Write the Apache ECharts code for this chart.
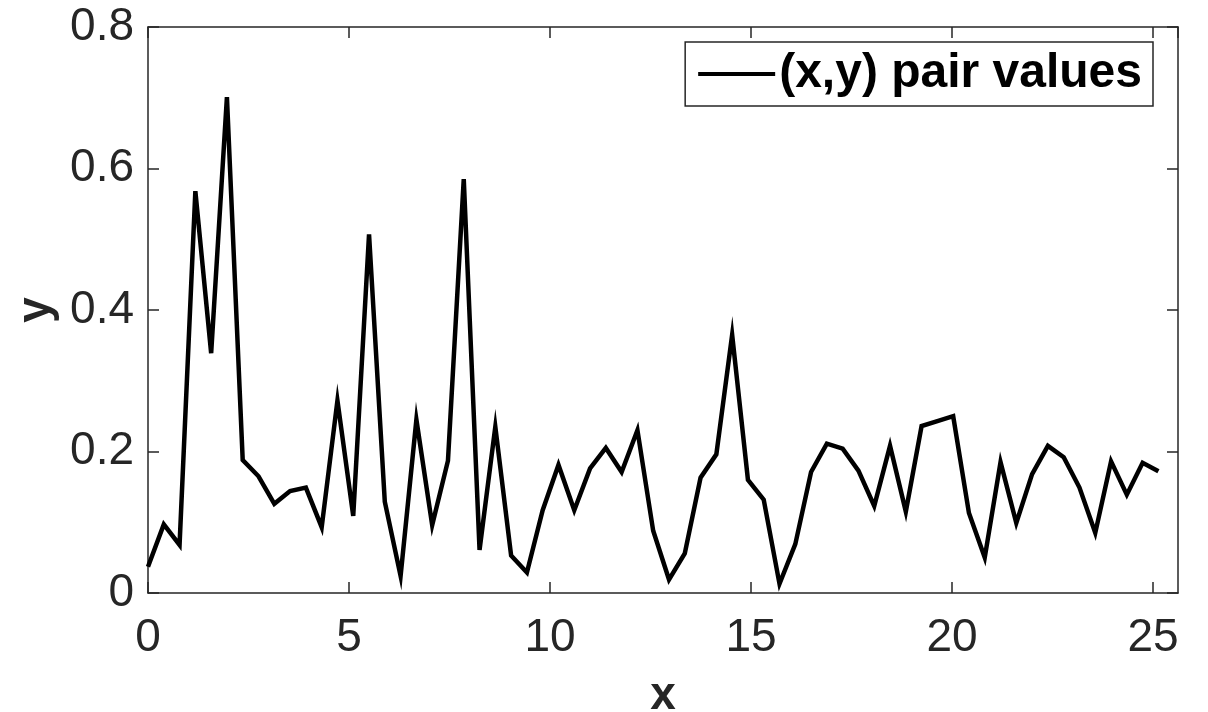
<!DOCTYPE html>
<html>
<head>
<meta charset="utf-8">
<script src="https://cdn.jsdelivr.net/npm/echarts@6/dist/echarts.min.js"></script>
<style>
  html, body { margin: 0; padding: 0; background: #fff; }
  #chart { width: 1208px; height: 712px; }
</style>
</head>
<body>
<div id="chart"></div>
<script>
// x samples (0 .. 8*pi, step pi/8)
const xValues = [
  0, 0.393, 0.785, 1.178, 1.571, 1.963, 2.356, 2.749, 3.142, 3.534,
  3.927, 4.320, 4.712, 5.105, 5.498, 5.890, 6.283, 6.676, 7.069, 7.461,
  7.854, 8.247, 8.639, 9.032, 9.425, 9.817, 10.210, 10.603, 10.996, 11.388,
  11.781, 12.174, 12.566, 12.959, 13.352, 13.744, 14.137, 14.530, 14.923, 15.315,
  15.708, 16.101, 16.493, 16.886, 17.279, 17.671, 18.064, 18.457, 18.850, 19.242,
  19.635, 20.028, 20.420, 20.813, 21.206, 21.598, 21.991, 22.384, 22.777, 23.169,
  23.562, 23.955, 24.347, 24.740, 25.133
];

const yValues = [
  0.037, 0.097, 0.068, 0.568, 0.339, 0.701, 0.188, 0.165, 0.126, 0.144,
  0.149, 0.093, 0.272, 0.109, 0.507, 0.129, 0.024, 0.245, 0.096, 0.187,
  0.585, 0.061, 0.235, 0.053, 0.029, 0.117, 0.181, 0.117, 0.176, 0.205,
  0.171, 0.230, 0.088, 0.019, 0.056, 0.163, 0.196, 0.365, 0.160, 0.132,
  0.013, 0.069, 0.171, 0.211, 0.204, 0.173, 0.123, 0.208, 0.115, 0.236,
  0.243, 0.250, 0.113, 0.050, 0.185, 0.099, 0.168, 0.208, 0.192, 0.149,
  0.085, 0.186, 0.139, 0.184, 0.172
];

const seriesName = '(x,y) pair values';
const xRange = [0, 25.62];
const yRange = [0, 0.8];

const axisColor = '#262626';
const font = '"Liberation Sans", Arial, Helvetica, sans-serif';

const chart = echarts.init(document.getElementById('chart'));

const baseAxisLine = { show: true, onZero: false, lineStyle: { color: axisColor, width: 1.5 } };
const baseTick = { show: true, inside: true, length: 11, lineStyle: { color: axisColor, width: 1.5 } };

let option = {
  animation: false,
  backgroundColor: '#fff',
  grid: { left: 148, right: 30, top: 27, bottom: 119, containLabel: false, outerBoundsMode: 'none' },
  legend: {
    data: [seriesName],
    top: 42,
    right: 55,
    icon: 'rect',
    itemWidth: 77,
    itemHeight: 4,
    itemGap: 0,
    padding: [8, 11, 8, 13],
    borderColor: axisColor,
    borderWidth: 1.5,
    backgroundColor: '#fff',
    textStyle: { fontFamily: font, fontSize: 48, fontWeight: 'bold', color: '#000', padding: [0, 0, 0, -1] }
  },
  xAxis: [{
    type: 'value',
    position: 'bottom',
    min: xRange[0],
    max: xRange[1],
    interval: 5,
    name: 'x',
    nameLocation: 'middle',
    nameGap: 80,
    nameTextStyle: { fontFamily: font, fontSize: 46, fontWeight: 'bold', color: axisColor },
    axisLine: baseAxisLine,
    axisTick: baseTick,
    splitLine: { show: false },
    axisLabel: {
      fontFamily: font, fontSize: 46, color: axisColor, margin: 22,
      showMaxLabel: false,
      formatter: v => (v % 5 === 0 ? String(v) : '')
    }
  }, {
    type: 'value',
    position: 'top',
    min: xRange[0],
    max: xRange[1],
    interval: 5,
    axisLine: baseAxisLine,
    axisTick: baseTick,
    splitLine: { show: false },
    axisLabel: { show: false }
  }],
  yAxis: [{
    type: 'value',
    position: 'left',
    min: yRange[0],
    max: yRange[1],
    interval: 0.2,
    name: 'y',
    nameLocation: 'middle',
    nameGap: 88,
    nameTextStyle: { fontFamily: font, fontSize: 46, fontWeight: 'bold', color: axisColor },
    axisLine: baseAxisLine,
    axisTick: baseTick,
    splitLine: { show: false },
    axisLabel: { fontFamily: font, fontSize: 46, color: axisColor, margin: 14 }
  }, {
    type: 'value',
    position: 'right',
    min: yRange[0],
    max: yRange[1],
    interval: 0.2,
    axisLine: baseAxisLine,
    axisTick: baseTick,
    splitLine: { show: false },
    axisLabel: { show: false }
  }],
  series: [{
    name: seriesName,
    type: 'line',
    xAxisIndex: 0,
    yAxisIndex: 0,
    data: xValues.map((x, i) => [x, yValues[i]]),
    symbol: 'none',
    showSymbol: false,
    itemStyle: { color: '#000' },
    lineStyle: { color: '#000', width: 4.5, join: 'miter' }
  }]
};

chart.setOption(option);
</script>
</body>
</html>
